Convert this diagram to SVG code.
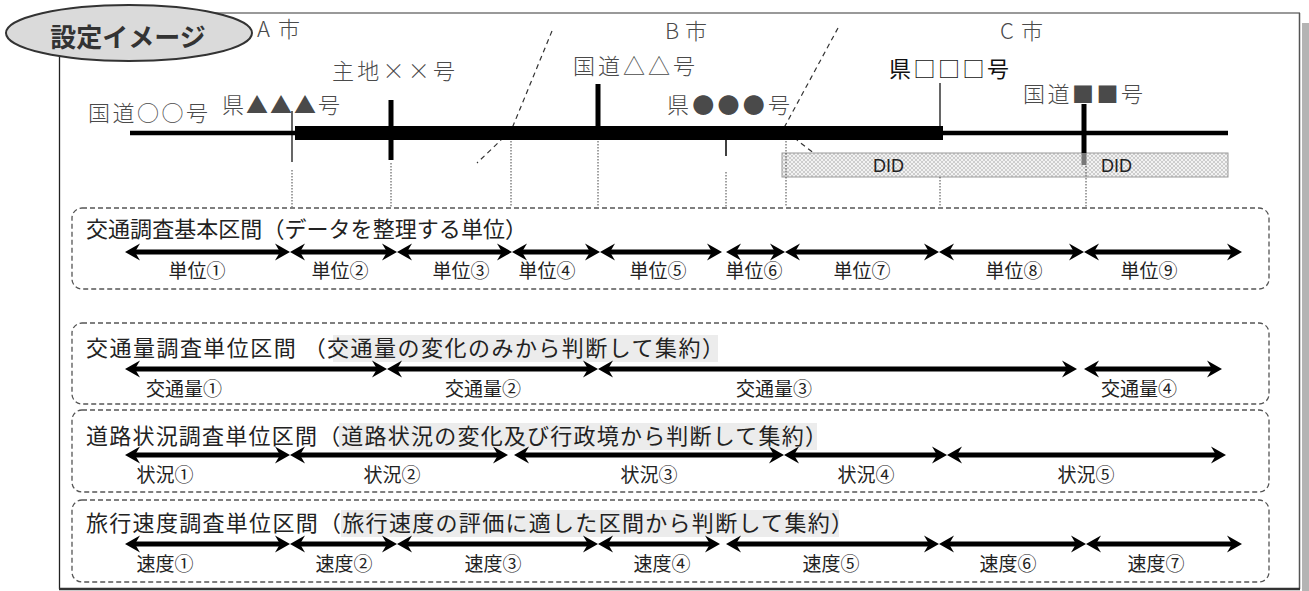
<svg xmlns="http://www.w3.org/2000/svg" width="1309" height="591" viewBox="0 0 1309 591">
<style>
.top{font-family:"Noto Sans CJK JP","Noto Sans CJK SC",sans-serif;font-size:22px;fill:#4a4a4a;font-weight:300}
.title{font-family:"Noto Sans CJK JP","Noto Sans",sans-serif;font-size:22px;fill:#222}
.lbl{font-family:"Noto Sans CJK JP","Noto Sans",sans-serif;font-size:19px;fill:#222;text-anchor:middle}
.sec{fill:none;stroke:#555;stroke-width:1.3;stroke-dasharray:5 3}
.hl{fill:#ececec}
.arr{stroke:#000;stroke-width:5;fill:none;marker-start:url(#ah);marker-end:url(#ah)}
.bound{fill:none;stroke:#333;stroke-width:1.2;stroke-dasharray:5 4}
.proj{stroke:#444;stroke-width:1;stroke-dasharray:1.5 1.5}
.did{font-family:"Liberation Sans",Arial,sans-serif;font-size:18px;fill:#222}
</style>
<defs>
<marker id="ah" viewBox="-6 -9 17 18" markerWidth="17" markerHeight="18" refX="0" refY="0" orient="auto-start-reverse" markerUnits="userSpaceOnUse">
<path d="M10,0 L-5,-8.5 L0,0 L-5,8.5 Z" fill="#000"/>
</marker>
<pattern id="hatch" width="4" height="4" patternUnits="userSpaceOnUse">
<rect width="4" height="4" fill="#f2f2f2"/>
<path d="M0,0 L4,4 M4,0 L0,4" stroke="#c4c4c4" stroke-width="0.8"/>
</pattern>
</defs>
<rect width="1309" height="591" fill="#fff"/>

<g id="frame">
<rect x="1302" y="23" width="7" height="568" fill="#b4b4b4"/>
<line x1="60" y1="13" x2="1300" y2="13" stroke="#777" stroke-width="1.5"/>
<line x1="1299.5" y1="13" x2="1299.5" y2="589" stroke="#555" stroke-width="1.5"/>
<line x1="59.5" y1="13" x2="59.5" y2="589" stroke="#222" stroke-width="1.3"/>
<line x1="59" y1="589" x2="1300" y2="589" stroke="#333" stroke-width="2.5"/>
</g>

<g id="badge">
<ellipse cx="129" cy="33" rx="123" ry="28" fill="#dadada" stroke="#333" stroke-width="2"/>
<text x="128" y="47" text-anchor="middle" font-family="Noto Sans CJK JP,sans-serif" font-size="26" font-weight="bold" fill="#333">設定イメージ</text>
</g>

<g id="cities">
<text class="top" x="257" y="37" textLength="43">A市</text>
<text class="top" x="665" y="39" textLength="42">B市</text>
<text class="top" x="1000" y="39" textLength="43">C市</text>
</g>

<g id="boundaries">
<path class="bound" d="M552,31 L513,126 L500,141 L477,163"/>
<path class="bound" d="M838,28 L785,126 L798,141 L832,167"/>
</g>

<g id="did">
<rect x="782" y="153" width="446" height="24" fill="url(#hatch)" stroke="#999" stroke-width="1"/>
<text class="did" x="873" y="172">DID</text>
<text class="did" x="1101" y="172">DID</text>
</g>

<g id="road">
<line x1="130" y1="133" x2="1228" y2="133" stroke="#000" stroke-width="4.5"/>
<rect x="295" y="126" width="648" height="14" fill="#000"/>
<rect x="388.5" y="100" width="5" height="60" fill="#000"/>
<rect x="595.5" y="84" width="5" height="42" fill="#000"/>
<line x1="292" y1="111" x2="292" y2="162" stroke="#000" stroke-width="1.2"/>
<line x1="726" y1="126" x2="726" y2="156" stroke="#000" stroke-width="1.5"/>
<line x1="940" y1="83" x2="940" y2="126" stroke="#000" stroke-width="1.2"/>
<rect x="1081.5" y="104" width="5" height="49" fill="#000"/>
<rect x="1081.5" y="153" width="5" height="12" fill="#777"/>
</g>

<g id="road-labels">
<text class="top" x="88" y="121" textLength="120">国道○○号</text>
<text class="top" x="222" y="113" textLength="118">県▲▲▲号</text>
<text class="top" x="332" y="79" textLength="123">主地××号</text>
<text class="top" x="573" y="74" textLength="122">国道△△号</text>
<text class="top" x="667" y="113" textLength="123">県●●●号</text>
<text x="889" y="77" textLength="120" font-family="Noto Sans CJK JP,sans-serif" font-size="22" fill="#111">県□□□号</text>
<text class="top" x="1023" y="102" textLength="120">国道■■号</text>
</g>

<g id="projections">
<line class="proj" x1="292" y1="170" x2="292" y2="207"/>
<line class="proj" x1="391" y1="163" x2="391" y2="207"/>
<line class="proj" x1="511" y1="141" x2="511" y2="207"/>
<line class="proj" x1="598" y1="141" x2="598" y2="207"/>
<line class="proj" x1="726" y1="172" x2="726" y2="207"/>
<line class="proj" x1="786" y1="141" x2="786" y2="207"/>
<line class="proj" x1="940" y1="177" x2="940" y2="207"/>
<line class="proj" x1="1086" y1="166" x2="1086" y2="207"/>
</g>

<g id="sec-basic">
<rect class="sec" x="72" y="208" width="1197" height="81" rx="10"/>
<text class="title" x="86" y="237" textLength="441">交通調査基本区間（データを整理する単位）</text>
<text class="lbl" x="197" y="278">単位①</text>
<text class="lbl" x="340" y="278">単位②</text>
<text class="lbl" x="461" y="278">単位③</text>
<text class="lbl" x="547" y="278">単位④</text>
<text class="lbl" x="658" y="278">単位⑤</text>
<text class="lbl" x="754" y="278">単位⑥</text>
<text class="lbl" x="862" y="278">単位⑦</text>
<text class="lbl" x="1014" y="278">単位⑧</text>
<text class="lbl" x="1149" y="278">単位⑨</text>
</g>

<g id="sec-volume">
<rect class="sec" x="72" y="323" width="1197" height="81" rx="10"/>
<rect class="hl" x="333" y="335" width="385" height="27"/>
<text class="title" x="86" y="356" textLength="638">交通量調査単位区間 （交通量の変化のみから判断して集約）</text>
<text class="lbl" x="184" y="396">交通量①</text>
<text class="lbl" x="483" y="396">交通量②</text>
<text class="lbl" x="774" y="396">交通量③</text>
<text class="lbl" x="1139" y="396">交通量④</text>
</g>

<g id="sec-road">
<rect class="sec" x="72" y="410" width="1197" height="82" rx="10"/>
<rect class="hl" x="339" y="423" width="478" height="27"/>
<text class="title" x="86" y="444" textLength="741">道路状況調査単位区間（道路状況の変化及び行政境から判断して集約）</text>
<text class="lbl" x="165" y="482">状況①</text>
<text class="lbl" x="392" y="482">状況②</text>
<text class="lbl" x="649" y="482">状況③</text>
<text class="lbl" x="866" y="482">状況④</text>
<text class="lbl" x="1086" y="482">状況⑤</text>
</g>

<g id="sec-speed">
<rect class="sec" x="72" y="500" width="1197" height="82" rx="10"/>
<rect class="hl" x="341" y="510" width="498" height="27"/>
<text class="title" x="86" y="531" textLength="767">旅行速度調査単位区間（旅行速度の評価に適した区間から判断して集約）</text>
<text class="lbl" x="165" y="571">速度①</text>
<text class="lbl" x="344" y="571">速度②</text>
<text class="lbl" x="493" y="571">速度③</text>
<text class="lbl" x="662" y="571">速度④</text>
<text class="lbl" x="831" y="571">速度⑤</text>
<text class="lbl" x="1008" y="571">速度⑥</text>
<text class="lbl" x="1156" y="571">速度⑦</text>
</g>

<g id="connectors">
<line class="arr" x1="135" y1="252" x2="280" y2="252"/>
<line class="arr" x1="300" y1="252" x2="387" y2="252"/>
<line class="arr" x1="407" y1="252" x2="502" y2="252"/>
<line class="arr" x1="522" y1="252" x2="590" y2="252"/>
<line class="arr" x1="610" y1="252" x2="712" y2="252"/>
<line class="arr" x1="736" y1="252" x2="775" y2="252"/>
<line class="arr" x1="795" y1="252" x2="929" y2="252"/>
<line class="arr" x1="949" y1="252" x2="1074" y2="252"/>
<line class="arr" x1="1094" y1="252" x2="1232" y2="252"/>

<line class="arr" x1="135" y1="369" x2="377" y2="369"/>
<line class="arr" x1="397" y1="369" x2="588" y2="369"/>
<line class="arr" x1="608" y1="369" x2="1067" y2="369"/>
<line class="arr" x1="1094" y1="369" x2="1212" y2="369"/>

<line class="arr" x1="135" y1="455" x2="280" y2="455"/>
<line class="arr" x1="300" y1="455" x2="498" y2="455"/>
<line class="arr" x1="524" y1="455" x2="774" y2="455"/>
<line class="arr" x1="794" y1="455" x2="937" y2="455"/>
<line class="arr" x1="957" y1="455" x2="1216" y2="455"/>

<line class="arr" x1="135" y1="544" x2="280" y2="544"/>
<line class="arr" x1="300" y1="544" x2="387" y2="544"/>
<line class="arr" x1="407" y1="544" x2="588" y2="544"/>
<line class="arr" x1="608" y1="544" x2="710" y2="544"/>
<line class="arr" x1="736" y1="544" x2="929" y2="544"/>
<line class="arr" x1="949" y1="544" x2="1076" y2="544"/>
<line class="arr" x1="1096" y1="544" x2="1232" y2="544"/>
</g>
</svg>
